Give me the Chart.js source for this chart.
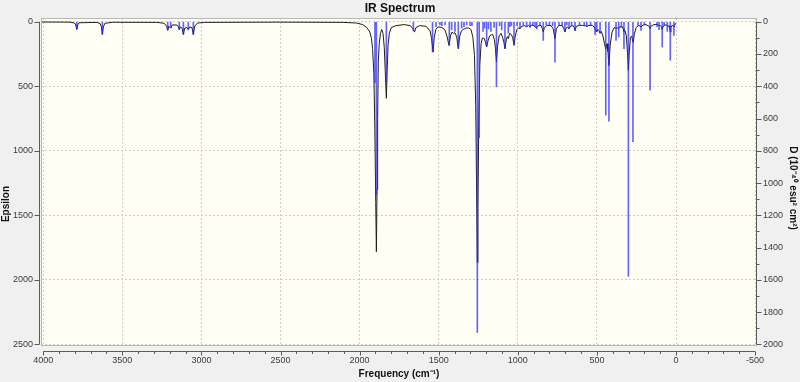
<!DOCTYPE html>
<html>
<head>
<meta charset="utf-8">
<title>IR Spectrum</title>
<script src="https://cdn.jsdelivr.net/npm/chart.js@4.4.1/dist/chart.umd.min.js"></script>
<style>
  body { margin: 0; background: #f0f0f0; }
  canvas { display: block; }
</style>
</head>
<body>
<canvas id="chart" width="800" height="382"></canvas>
<script>
// tick labels
const freqTicks = [4000, 3500, 3000, 2500, 2000, 1500, 1000, 500, 0, -500]
const epsTicks = [0, 500, 1000, 1500, 2000, 2500]
const dTicks = [0, 200, 400, 600, 800, 1000, 1200, 1400, 1600, 1800, 2000]

// broadened spectrum (epsilon, left axis)
const curveFreq = [
    4014, 3830, 3802, 3794, 3788, 3782, 3774, 3660, 3640, 3632, 3626, 3620, 3610, 3560,
    3280, 3235, 3220, 3213, 3206, 3194, 3184, 3155, 3146, 3140, 3132, 3122, 3114, 3106,
    3092, 3083, 3074, 3060, 3051, 3043, 3025, 2980, 2500, 2100, 2020, 1980, 1955, 1935,
    1925, 1918, 1910, 1904, 1898, 1894, 1890, 1886, 1882, 1876, 1868, 1860, 1852, 1844,
    1838, 1831, 1826, 1820, 1812, 1800, 1770, 1720, 1680, 1665, 1653, 1644, 1620, 1580,
    1555, 1545, 1536, 1528, 1518, 1511, 1500, 1480, 1462, 1448, 1435, 1426, 1416, 1406,
    1397, 1386, 1376, 1367, 1356, 1345, 1330, 1310, 1296, 1284, 1274, 1266, 1260, 1256,
    1252, 1247, 1240, 1232, 1224, 1212, 1204, 1197, 1189, 1178, 1165, 1158, 1148, 1141,
    1135, 1128, 1118, 1106, 1096, 1088, 1081, 1073, 1066, 1060, 1052, 1040, 1032, 1024,
    1016, 1006, 995, 986, 975, 958, 944, 933, 923, 912, 898, 891, 880, 868,
    852, 846, 839, 832, 815, 790, 776, 765, 756, 740, 720, 710, 702, 695,
    684, 676, 668, 650, 643, 638, 630, 610, 590, 570, 564, 556, 530, 518,
    510, 501, 494, 486, 480, 472, 462, 452, 444, 436, 430, 424, 416, 404,
    392, 385, 379, 372, 364, 356, 340, 334, 329, 322, 314, 306, 301, 296,
    288, 280, 274, 270, 264, 252, 235, 221, 208, 190, 170, 164, 158, 140,
    115, 107, 100, 92, 87, 82, 70, 58, 52, 44, 40, 36, 32, 24,
    16, 13, 9, 4, 0
]
const curveEps = [
    2, 3, 10, 25, 60, 25, 8, 5, 15, 40, 98, 40, 12, 4,
    5, 12, 35, 67, 35, 50, 25, 25, 40, 60, 40, 50, 98, 50,
    45, 60, 40, 45, 98, 35, 10, 5, 3, 5, 10, 22, 45, 80,
    130, 207, 400, 800, 1400, 1782, 1300, 750, 320, 170, 90, 60, 90, 200,
    380, 593, 380, 180, 90, 45, 30, 22, 30, 50, 80, 45, 30, 35,
    70, 130, 235, 120, 60, 48, 40, 45, 60, 110, 183, 110, 80, 90,
    85, 120, 209, 110, 70, 60, 50, 48, 60, 120, 260, 650, 1350, 1867,
    1450, 800, 330, 170, 125, 130, 160, 196, 150, 110, 100, 100, 140, 210,
    312, 190, 110, 90, 120, 160, 209, 140, 115, 131, 90, 100, 125, 183,
    110, 60, 48, 54, 35, 30, 40, 28, 38, 26, 30, 40, 45, 28,
    30, 50, 80, 45, 28, 30, 55, 131, 55, 28, 30, 50, 80, 50,
    40, 55, 35, 30, 45, 67, 35, 28, 28, 32, 40, 28, 28, 40,
    60, 80, 60, 70, 90, 75, 110, 170, 210, 170, 230, 340, 180, 80,
    48, 45, 55, 45, 55, 40, 38, 55, 75, 70, 110, 250, 376, 250,
    120, 110, 150, 160, 100, 45, 28, 40, 25, 22, 35, 54, 35, 22,
    22, 30, 28, 40, 60, 38, 24, 26, 35, 32, 45, 80, 45, 28,
    35, 40, 30, 15, 10
]

// stick spectrum (D, right axis)
const stickFreq = [
    3788, 3626, 3213, 3194, 3140, 3114, 3083, 3051, 1903, 1894, 1831, 1660, 1539, 1517,
    1492, 1480, 1460, 1433, 1418, 1397, 1376, 1355, 1340, 1323, 1302, 1290, 1256, 1244,
    1220, 1210, 1197, 1185, 1170, 1150, 1135, 1115, 1102, 1081, 1060, 1050, 1040, 1024,
    1005, 986, 965, 944, 923, 905, 891, 880, 860, 839, 820, 800, 780, 765,
    740, 720, 702, 690, 676, 660, 638, 610, 580, 564, 540, 512, 501, 480,
    444, 424, 379, 362, 345, 329, 301, 272, 240, 221, 200, 164, 120, 107,
    87, 75, 55, 36, 13
]
const stickD = [
    45, 80, 50, 35, 50, 80, 50, 80, 380, 1073, 373, 54, 188, 30,
    20, 25, 20, 146, 50, 60, 163, 40, 30, 20, 25, 25, 1926, 720,
    60, 40, 150, 45, 60, 35, 404, 25, 50, 165, 70, 30, 25, 140,
    25, 40, 20, 30, 35, 20, 30, 45, 25, 116, 20, 20, 25, 250,
    20, 25, 60, 20, 40, 25, 55, 20, 25, 30, 20, 80, 60, 70,
    579, 616, 116, 95, 35, 167, 1578, 744, 25, 54, 20, 425, 30, 50,
    157, 25, 60, 239, 85
]

const FONT = 'Liberation Sans, Arial, sans-serif'
Chart.defaults.font.family = FONT
Chart.defaults.color = '#3a3a3a'

const crisp = v => Math.round(v) + 0.5
const plain = v => String(v)

// plot background, axis lines with minor ticks, and the two side titles
const frame = {
    id: 'frame',
    beforeDraw(chart) {
        const { ctx, chartArea: a } = chart
        ctx.save()
        ctx.fillStyle = '#f0f0f0'
        ctx.fillRect(0, 0, chart.width, chart.height)
        ctx.fillStyle = '#fffff5'
        ctx.fillRect(a.left, a.top, a.right - a.left, a.bottom - a.top)
        ctx.restore()
    },
    afterDraw(chart) {
        const { ctx, chartArea: a } = chart
        const { x, y, y2 } = chart.scales
        ctx.save()
        ctx.lineWidth = 1
        ctx.strokeStyle = '#b8b8b8'
        ctx.strokeRect(crisp(a.left), crisp(a.top), Math.round(a.right - a.left) - 1, Math.round(a.bottom - a.top) - 1)

        ctx.strokeStyle = '#5a5a5a'
        ctx.beginPath()
        // left axis
        const lx = crisp(a.left) - 2
        ctx.moveTo(lx, y.getPixelForValue(0))
        ctx.lineTo(lx, y.getPixelForValue(2500))
        epsTicks.forEach(v => {
            const p = crisp(y.getPixelForValue(v))
            ctx.moveTo(lx - 5, p)
            ctx.lineTo(lx, p)
        })
        // right axis
        const rx = crisp(a.right) - 1
        ctx.moveTo(rx, y2.getPixelForValue(0))
        ctx.lineTo(rx, y2.getPixelForValue(2000))
        for (let v = 0; v <= 2000; v += 100) {
            const p = crisp(y2.getPixelForValue(v))
            ctx.moveTo(rx, p)
            ctx.lineTo(rx + (v % 200 === 0 ? 5 : 3), p)
        }
        // bottom axis
        const by = crisp(a.bottom) + 5
        ctx.moveTo(x.getPixelForValue(4000), by)
        ctx.lineTo(x.getPixelForValue(-500), by)
        for (let v = -500; v <= 4000; v += 100) {
            const p = crisp(x.getPixelForValue(v))
            ctx.moveTo(p, by)
            ctx.lineTo(p, by + (v % 500 === 0 ? 4 : 2.5))
        }
        ctx.stroke()

        ctx.fillStyle = '#111'
        ctx.font = 'bold 10px ' + FONT
        ctx.textAlign = 'center'
        ctx.textBaseline = 'middle'
        ctx.translate(6, 204)
        ctx.rotate(-Math.PI / 2)
        ctx.fillText('Epsilon', 0, 0)
        ctx.setTransform(1, 0, 0, 1, 0, 0)
        ctx.translate(793, 188)
        ctx.rotate(Math.PI / 2)
        ctx.fillText('D (10\u207B\u2074\u2070 esu\u00B2 cm\u00B2)', 0, 0)
        ctx.restore()
    },
}

new Chart('chart', {
    type: 'line',
    data: {
        datasets: [
            {
                type: 'bar',
                data: stickFreq.map((f, i) => ({ x: f, y: stickD[i] })),
                yAxisID: 'y2',
                backgroundColor: 'rgba(40, 40, 255, 0.72)',
                borderWidth: 0,
                barThickness: 1,
                order: 1,
            },
            {
                data: curveFreq.map((f, i) => ({ x: f, y: curveEps[i] })),
                yAxisID: 'y',
                borderColor: '#1e1e1e',
                borderWidth: 1,
                pointRadius: 0,
                tension: 0,
                fill: false,
                order: 2,
            },
        ],
    },
    options: {
        responsive: false,
        animation: false,
        events: [],
        layout: { padding: 0 },
        plugins: {
            legend: { display: false },
            tooltip: { enabled: false },
            title: {
                display: true,
                text: 'IR Spectrum',
                color: '#111',
                font: { size: 12, weight: 'bold' },
                padding: { top: 1, bottom: 2.6 },
            },
        },
        scales: {
            x: {
                type: 'linear',
                reverse: true,
                offset: false,
                min: -512,
                max: 4014,
                afterBuildTicks: s => { s.ticks = freqTicks.map(v => ({ value: v })) },
                afterFit: s => { s.height = 36 },
                grid: { color: '#cdcdcd', drawTicks: false, offset: false },
                border: { display: false, dash: [2, 2] },
                ticks: { font: { size: 9 }, padding: 9, maxRotation: 0, autoSkip: false, callback: plain },
                title: {
                    display: true,
                    text: 'Frequency (cm\u207B\u00B9)',
                    color: '#111',
                    font: { size: 10, weight: 'bold' },
                    padding: { top: 0, bottom: 2 },
                },
            },
            y: {
                type: 'linear',
                position: 'left',
                reverse: true,
                min: -29,
                max: 2513,
                afterBuildTicks: s => { s.ticks = epsTicks.map(v => ({ value: v })) },
                afterFit: s => { s.width = 41 },
                grid: { color: '#cdcdcd', drawTicks: false },
                border: { display: false, dash: [2, 2] },
                ticks: { font: { size: 9 }, padding: 8, callback: plain },
            },
            y2: {
                type: 'linear',
                position: 'right',
                reverse: true,
                min: -23,
                max: 2010,
                afterBuildTicks: s => { s.ticks = dTicks.map(v => ({ value: v })) },
                afterFit: s => { s.width = 43 },
                grid: { drawOnChartArea: false, drawTicks: false },
                border: { display: false },
                ticks: { font: { size: 9 }, padding: 6, callback: plain },
            },
        },
    },
    plugins: [frame],
})
</script>
</body>
</html>
